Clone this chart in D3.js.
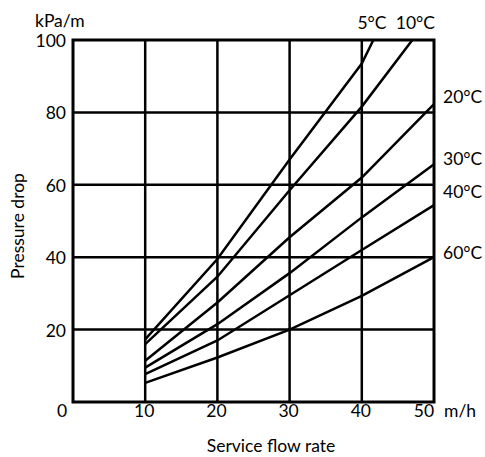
<!DOCTYPE html>
<html>
<head>
<meta charset="utf-8">
<script src="https://cdn.jsdelivr.net/npm/d3@7"></script>
<style>
  body { margin: 0; background: #fff; }
  text { font-family: Lato, "Open Sans", sans-serif; font-size: 17.5px; fill: #000; }
</style>
</head>
<body>
<script>
// flow rate points (m/h)
const flow = [10, 20, 30, 40, 50];

// pressure drop (kPa/m) per water temperature
const t5 = [17.3, 39.5, 67, 93.5, 100];
const t10 = [16, 34.6, 58.5, 81.6, 100];
const t20 = [11.4, 27.5, 45.5, 62, 82.3];
const t30 = [9.5, 21.5, 35.6, 51, 65.7];
const t40 = [7.7, 17, 29.5, 42, 54.4];
const t60 = [5.3, 12.3, 20, 29.3, 40];

// where the two steep curves hit the 100 line
const topFlow5 = 41.6;
const topFlow10 = 47;

const xTicks = [0, 10, 20, 30, 40, 50];
const yTicks = [20, 40, 60, 80, 100];

const series = [
  { name: "5°C", x: [10, 20, 30, 40, topFlow5], y: t5 },
  { name: "10°C", x: [10, 20, 30, 40, topFlow10], y: t10 },
  { name: "20°C", x: flow, y: t20, label: 82.6 },
  { name: "30°C", x: flow, y: t30, label: 65.5 },
  { name: "40°C", x: flow, y: t40, label: 56.4 },
  { name: "60°C", x: flow, y: t60, label: 39.4 },
];

const W = 485, H = 457;
const m = { left: 73, right: 434, top: 40, bottom: 402 };

const x = d3.scaleLinear().domain([0, 50]).range([m.left, m.right]);
const y = d3.scaleLinear().domain([0, 100]).range([m.bottom, m.top]);

const svg = d3.select("body")
  .append("svg")
  .attr("width", W)
  .attr("height", H);

// grid
svg.append("g")
  .selectAll("line")
  .data(xTicks.filter(d => d > 0 && d < 50))
  .enter()
  .append("line")
  .attr("x1", d => x(d)).attr("x2", d => x(d))
  .attr("y1", m.top).attr("y2", m.bottom)
  .attr("stroke", "#000").attr("stroke-width", 2.5);

svg.append("g")
  .selectAll("line")
  .data(yTicks.filter(d => d < 100))
  .enter()
  .append("line")
  .attr("x1", m.left).attr("x2", m.right)
  .attr("y1", d => y(d)).attr("y2", d => y(d))
  .attr("stroke", "#000").attr("stroke-width", 2.5);

svg.append("rect")
  .attr("x", m.left).attr("y", m.top)
  .attr("width", m.right - m.left).attr("height", m.bottom - m.top)
  .attr("fill", "none").attr("stroke", "#000").attr("stroke-width", 3);

// curves
const line = d3.line()
  .x(d => x(d[0]))
  .y(d => y(d[1]));

svg.append("g")
  .selectAll("path")
  .data(series)
  .enter()
  .append("path")
  .attr("d", s => line(s.x.map((v, i) => [v, s.y[i]])))
  .attr("fill", "none")
  .attr("stroke", "#000")
  .attr("stroke-width", 2.5);

// curve labels
svg.append("text").attr("x", 372).attr("y", 29).attr("text-anchor", "middle").text("5°C");
svg.append("text").attr("x", 435).attr("y", 29).attr("text-anchor", "end").text("10°C");
series.slice(2).forEach(s => {
  svg.append("text")
    .attr("x", 443)
    .attr("y", y(s.label))
    .text(s.name);
});

// tick labels
svg.append("g")
  .selectAll("text")
  .data(yTicks)
  .enter()
  .append("text")
  .attr("x", 66)
  .attr("y", d => y(d) + 7)
  .attr("text-anchor", "end")
  .text(d => d);

svg.append("g")
  .selectAll("text")
  .data(xTicks)
  .enter()
  .append("text")
  .attr("x", d => d === 0 ? x(d) - 11 : d === 50 ? x(d) - 10 : x(d) - 1)
  .attr("y", 417)
  .attr("text-anchor", "middle")
  .text(d => d);

svg.append("text").attr("x", 444).attr("y", 417).text("m/h");
svg.append("text").attr("x", 35).attr("y", 27).text("kPa/m");

svg.append("text")
  .attr("x", 271).attr("y", 452)
  .attr("text-anchor", "middle")
  .text("Service flow rate");

svg.append("text")
  .attr("transform", "translate(24, 226) rotate(-90)")
  .attr("text-anchor", "middle")
  .text("Pressure drop");
</script>
</body>
</html>
